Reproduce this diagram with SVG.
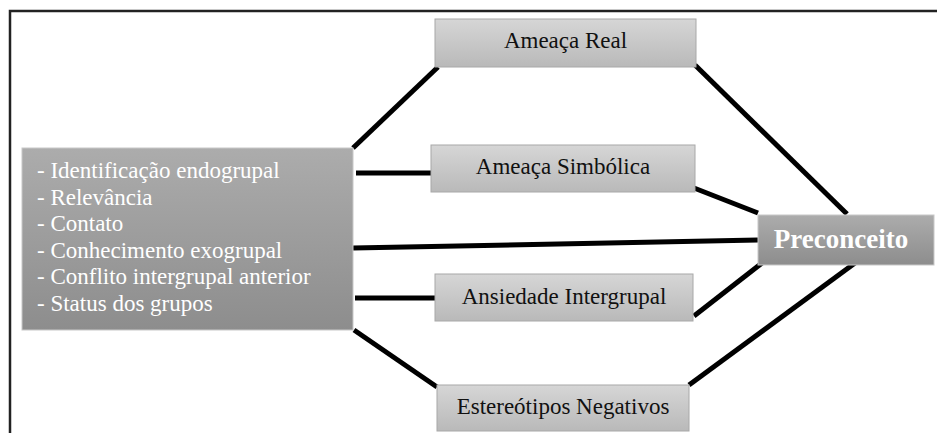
<svg xmlns="http://www.w3.org/2000/svg" width="937" height="433" viewBox="0 0 937 433">
<defs>
<linearGradient id="gLight" x1="0" y1="0" x2="0" y2="1">
<stop offset="0" stop-color="#d6d6d6"/>
<stop offset="1" stop-color="#b9b9b9"/>
</linearGradient>
<linearGradient id="gDark" x1="0" y1="0" x2="0" y2="1">
<stop offset="0" stop-color="#acacac"/>
<stop offset="1" stop-color="#8d8d8d"/>
</linearGradient>
<style>
.light{fill:url(#gLight);stroke:#a8a8a8;stroke-width:1}
.dark{fill:url(#gDark);stroke:#c8c8c8;stroke-width:1}
text{font-family:"Times New Roman","Liberation Serif",Tinos,serif}
.t{font-size:23px;fill:#111;text-anchor:middle}
.w{font-size:23px;fill:#fff}
.b{font-size:27px;font-weight:bold;fill:#fff;text-anchor:middle}
.c line{stroke:#000;stroke-width:5;stroke-linecap:butt}
</style>
</defs>
<rect width="937" height="433" fill="#fff"/>
<path d="M10,433 V11 H937" fill="none" stroke="#222" stroke-width="2.5"/>
<g class="c" id="connectors">
<line x1="353" y1="148" x2="438" y2="67"/>
<line x1="356" y1="173" x2="432" y2="173"/>
<line x1="695" y1="65" x2="847" y2="214"/>
<line x1="694" y1="188" x2="758" y2="213"/>
<line x1="353" y1="248" x2="758" y2="240"/>
<line x1="355" y1="298" x2="435" y2="298"/>
<line x1="354" y1="330" x2="437" y2="387"/>
<line x1="694" y1="316" x2="762" y2="263"/>
<line x1="689" y1="385" x2="855" y2="263"/>
</g>
<g id="factors">
<rect class="dark" x="22" y="148" width="331" height="182"/>
<text class="w" x="37" y="178">- Identificação endogrupal</text>
<text class="w" x="37" y="204.5">- Relevância</text>
<text class="w" x="37" y="231">- Contato</text>
<text class="w" x="37" y="257.5">- Conhecimento exogrupal</text>
<text class="w" x="37" y="284">- Conflito intergrupal anterior</text>
<text class="w" x="37" y="310.5">- Status dos grupos</text>
</g>
<g id="ameaca-real">
<rect class="light" x="435" y="19" width="261" height="48"/>
<text class="t" x="565.5" y="48">Ameaça Real</text>
</g>
<g id="ameaca-simbolica">
<rect class="light" x="431" y="145" width="264" height="47"/>
<text class="t" x="563" y="174">Ameaça Simbólica</text>
</g>
<g id="ansiedade">
<rect class="light" x="435" y="274" width="258" height="47"/>
<text class="t" x="564" y="304">Ansiedade Intergrupal</text>
</g>
<g id="estereotipos">
<rect class="light" x="437" y="385" width="252" height="46"/>
<text class="t" x="563" y="414">Estereótipos Negativos</text>
</g>
<g id="preconceito">
<rect class="dark" x="758" y="215" width="176" height="50"/>
<text class="b" x="841" y="248">Preconceito</text>
</g>
</svg>
